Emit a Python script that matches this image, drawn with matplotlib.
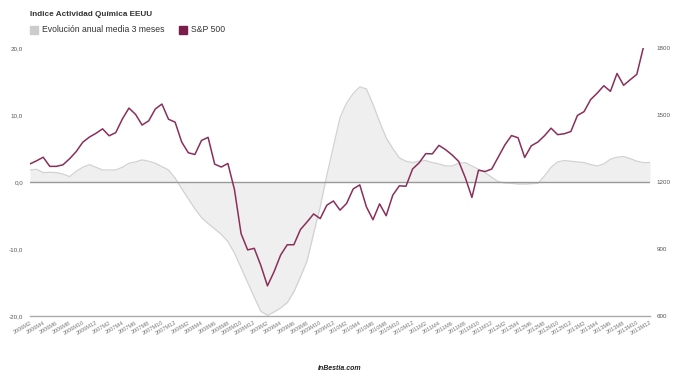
import matplotlib
matplotlib.use("Agg")
import matplotlib.pyplot as plt
from matplotlib.patches import Rectangle

plt.rcParams['font.family'] = ['Liberation Sans', 'DejaVu Sans']

# categories: 2006M2 .. 2013M12
meses = [f"{y}M{m}" for y in range(2006, 2014) for m in range(1, 13)][1:]

# Evolucion anual media 3 meses (left axis)
quimica = [1.8, 1.9, 1.4, 1.45, 1.4, 1.2, 0.8, 1.6, 2.2, 2.6, 2.2, 1.8,
           1.8, 1.8, 2.2, 2.8, 3.0, 3.3, 3.1, 2.8, 2.3, 1.8, 0.6, -1.0,
           -2.5, -4.0, -5.3, -6.2, -7.0, -7.8, -8.9, -10.6, -12.8, -15.0, -17.2, -19.3,
           -19.9, -19.4, -18.8, -18.0, -16.4, -14.2, -11.8, -7.7, -3.7, 1.0, 5.3, 9.6,
           11.8, 13.2, 14.2, 13.9, 11.6, 9.0, 6.6, 5.0, 3.6, 3.1, 2.9, 3.1,
           3.2, 2.9, 2.7, 2.4, 2.4, 2.8, 2.9, 2.4, 1.9, 1.4, 0.7, 0.05,
           -0.15, -0.2, -0.3, -0.3, -0.25, -0.2, 0.9, 2.2, 3.0, 3.2, 3.1, 3.0,
           2.9, 2.6, 2.4, 2.7, 3.4, 3.7, 3.8, 3.5, 3.1, 2.9, 2.9]

# S&P 500 (right axis), 2006M2 .. 2013M11
sp500 = [1281, 1295, 1311, 1270, 1270, 1277, 1304, 1336, 1378, 1401, 1418,
         1438, 1407, 1421, 1482, 1531, 1503, 1455, 1474, 1527, 1549, 1481, 1468,
         1379, 1331, 1323, 1386, 1400, 1280, 1267, 1283, 1166, 969, 896, 903,
         826, 735, 798, 873, 919, 919, 987, 1021, 1057, 1036, 1096, 1115,
         1074, 1104, 1169, 1187, 1089, 1031, 1102, 1049, 1141, 1183, 1181, 1258,
         1286, 1327, 1326, 1364, 1345, 1321, 1292, 1219, 1131, 1253, 1247, 1258,
         1312, 1366, 1408, 1398, 1310, 1362, 1379, 1407, 1441, 1412, 1416, 1426,
         1498, 1515, 1569, 1598, 1631, 1606, 1686, 1633, 1658, 1682, 1803]

left_ticks = [-20, -10, 0, 10, 20]
right_ticks = [600, 900, 1200, 1500, 1800]

W, H = 680, 380
fig = plt.figure(figsize=(W / 100, H / 100), dpi=100)
ax = fig.add_axes([30 / W, 64 / H, 620 / W, 268 / H])

x = list(range(len(quimica)))
ax.fill_between(x, 0, quimica, color='#efefef', lw=0, zorder=1)
ax.plot(x, quimica, color='#d2d2d2', lw=0.9, zorder=2)
ax.axhline(0, color='#999999', lw=1.0, zorder=3)

ax.set_xlim(0, len(meses) - 1)
ax.set_ylim(-20, 20)
ax.set_yticks(left_ticks)
ax.set_yticklabels([f"{v:.1f}".replace('.', ',') for v in left_ticks])
ax.set_xticks(x[::2])
ax.set_xticklabels(meses[::2], rotation=30, ha='right', va='top',
                   rotation_mode='anchor')
ax.tick_params(axis='x', length=0, pad=3, labelsize=4, labelcolor='#777777')
ax.tick_params(axis='y', length=0, pad=5, labelsize=4.5, labelcolor='#555555')
for s in ['top', 'right', 'left']:
    ax.spines[s].set_visible(False)
ax.spines['bottom'].set_color('#aaaaaa')
ax.spines['bottom'].set_linewidth(1.0)

ax2 = ax.twinx()
ax2.plot(range(len(sp500)), sp500, color='#8a2f5a', lw=1.1, zorder=4)
ax2.set_ylim(600, 1800)
ax2.set_yticks(right_ticks)
ax2.tick_params(axis='y', length=0, pad=5, labelsize=4.5, labelcolor='#555555')
for s in ['top', 'right', 'left', 'bottom']:
    ax2.spines[s].set_visible(False)

# title and legend
fig.text(30 / W, 1 - 15 / H, 'Indice Actividad Química EEUU', fontsize=5.9,
         fontweight='bold', color='#333333', va='center', ha='left')
fig.add_artist(Rectangle((30 / W, 1 - 34 / H), 8 / W, 8 / H,
                         transform=fig.transFigure, color='#cccccc'))
fig.text(42 / W, 1 - 30 / H, 'Evolución anual media 3 meses', fontsize=6.2,
         color='#333333', va='center', ha='left')
fig.add_artist(Rectangle((179 / W, 1 - 34 / H), 8 / W, 8 / H,
                         transform=fig.transFigure, color='#7a1d48'))
fig.text(191 / W, 1 - 30 / H, 'S&P 500', fontsize=6.2,
         color='#333333', va='center', ha='left')

fig.text(340 / W, 1 - 368 / H, 'inBestia.com', fontsize=5, fontweight='bold',
         fontstyle='italic', color='#222222', ha='center', va='center')

fig.savefig('out.png', dpi=100, facecolor='white')
